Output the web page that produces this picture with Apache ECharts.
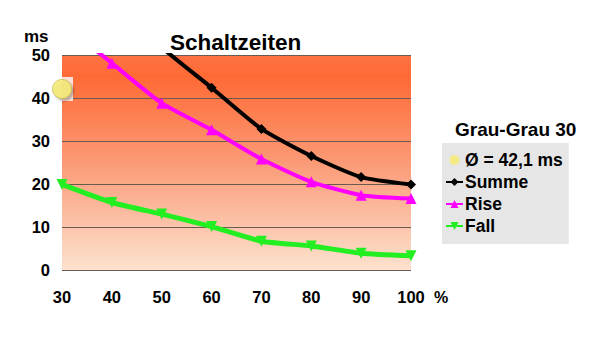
<!DOCTYPE html>
<html>
<head>
<meta charset="utf-8">
<script src="https://cdn.jsdelivr.net/npm/echarts@6/dist/echarts.min.js"></script>
<style>
  html, body { margin: 0; padding: 0; background: #fff; }
  #chart { width: 600px; height: 352px; }
</style>
</head>
<body>
<div id="chart"></div>
<script>
  var percent = [30, 40, 50, 60, 70, 80, 90, 100];
  var summe = [77.4, 63.8, 51.8, 42.4, 32.8, 26.5, 21.6, 19.9];
  var rise = [57.5, 48.1, 38.8, 32.6, 25.8, 20.5, 17.4, 16.6];
  var fall = [19.9, 15.7, 13.0, 10.1, 6.7, 5.6, 3.9, 3.3];
  var average = [[30, 42.1]];

  var font = 'Liberation Sans, Arial, sans-serif';
  var chart = echarts.init(document.getElementById('chart'), null, { renderer: 'svg' });

  function pairs(vals) {
    return vals.map(function(v, i) { return [percent[i], v]; });
  }

  chart.setOption({
    animation: false,
    textStyle: { fontFamily: font },
    title: [
      { text: 'Schaltzeiten', left: 165, top: 26,
        textStyle: { fontFamily: font, fontSize: 22.5, fontWeight: 'bold', color: '#000' } },
      { text: 'Grau-Grau 30', left: 450, top: 115,
        textStyle: { fontFamily: font, fontSize: 19, fontWeight: 'bold', color: '#000' } }
    ],
    legend: {
      orient: 'vertical', left: 442, top: 143,
      data: [
        { name: 'Ø = 42,1 ms', icon: 'circle', itemStyle: { color: '#f6ec6e', borderWidth: 0, shadowBlur: 0 } },
        'Summe', 'Rise', 'Fall'
      ],
      backgroundColor: '#e6e6e6',
      padding: [8, 6, 9, 3],
      itemGap: 4, itemWidth: 17, itemHeight: 10,
      textStyle: { fontFamily: font, fontSize: 17.5, fontWeight: 'bold', color: '#000', padding: [0, 0, 0, -3] }
    },
    grid: {
      left: 62, right: 189, top: 55, bottom: 82, show: true, borderWidth: 0,
      backgroundColor: {
        type: 'linear', x: 0, y: 0, x2: 0, y2: 1,
        colorStops: [
          { offset: 0, color: '#fe7244' },
          { offset: 0.1, color: '#fe6a35' },
          { offset: 0.5, color: '#fb9a76' },
          { offset: 1, color: '#fde2cf' }
        ]
      }
    },
    xAxis: {
      type: 'value', min: 30, max: 100, interval: 10,
      axisLine: { show: false }, axisTick: { show: false }, splitLine: { show: false },
      axisLabel: { fontFamily: font, fontSize: 16.5, fontWeight: 'bold', color: '#000', margin: 18 }
    },
    yAxis: {
      type: 'value', min: 0, max: 50, interval: 10,
      axisLine: { show: false }, axisTick: { show: false },
      splitLine: { lineStyle: { color: '#6b5a52', width: 1 } },
      axisLabel: { fontFamily: font, fontSize: 16.5, fontWeight: 'bold', color: '#000', margin: 12 }
    },
    graphic: [
      { type: 'text', left: 24, top: 28,
        style: { text: 'ms', font: 'bold 17px Liberation Sans', fill: '#000' } },
      { type: 'text', left: 434, top: 289,
        style: { text: '%', font: 'bold 16px Liberation Sans', fill: '#000' } }
    ],
    series: [
      { name: 'Summe', type: 'line', data: pairs(summe), smooth: 0.2,
        symbol: 'diamond', symbolSize: 10, color: '#000',
        lineStyle: { width: 4, color: '#000' }, itemStyle: { color: '#000' } },
      { name: 'Rise', type: 'line', data: pairs(rise), smooth: 0.2,
        symbol: 'triangle', symbolSize: 11, color: '#ff00ff',
        lineStyle: { width: 4, color: '#ff00ff' }, itemStyle: { color: '#ff00ff' } },
      { name: 'Fall', type: 'line', data: pairs(fall), smooth: 0.2,
        symbol: 'triangle', symbolRotate: 180, symbolSize: 11, color: '#22ee22',
        lineStyle: { width: 5, color: '#22ee22' }, itemStyle: { color: '#22ee22' } },
      { name: 'bg', type: 'scatter', data: average, symbol: 'rect', symbolSize: [22, 24],
        clip: false, silent: true, itemStyle: { color: '#ffffff' }, z: 3 },
      { name: 'Ø = 42,1 ms', type: 'scatter', data: average, symbol: 'circle', symbolSize: 19,
        clip: false, color: '#f6ec6e', z: 4,
        itemStyle: { color: '#f6ec6e', borderColor: '#c9b94a', borderWidth: 1,
          shadowColor: 'rgba(0,0,0,0.35)', shadowOffsetX: 2, shadowOffsetY: 2, shadowBlur: 2 } }
    ]
  });
</script>
</body>
</html>
